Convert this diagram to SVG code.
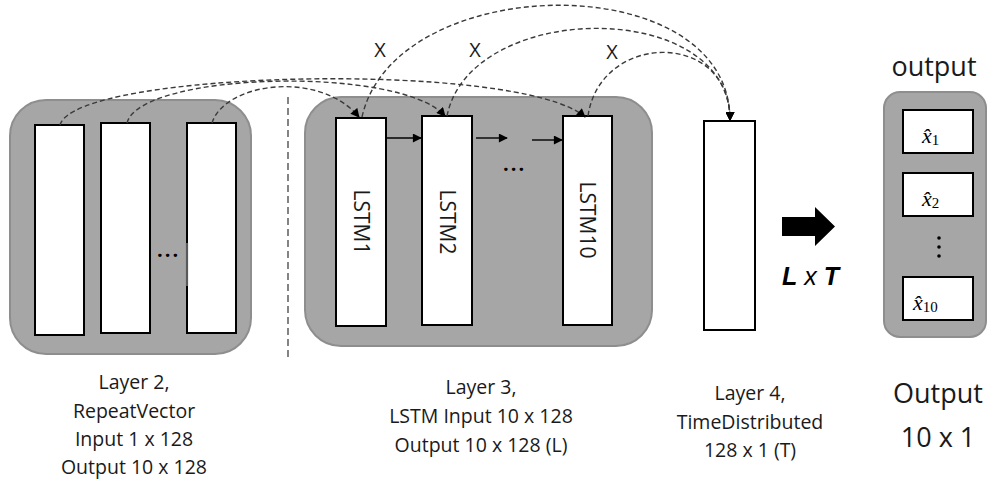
<svg xmlns="http://www.w3.org/2000/svg" width="990" height="488" viewBox="0 0 990 488">
  <style>
    .panel { fill: #a6a6a6; stroke: #8e8e8e; stroke-width: 2; }
    .bar { fill: #ffffff; stroke: #000000; stroke-width: 2; }
    .flow { fill: none; stroke: #3a3a3a; stroke-width: 1.4; stroke-dasharray: 5 3; }
    .sep { fill: none; stroke: #333333; stroke-width: 1.2; stroke-dasharray: 7 4; }
    .solid { fill: none; stroke: #000000; stroke-width: 1.4; }
    .lbl { font-family: "Open Sans", "Noto Sans", sans-serif; font-size: 19.5px; fill: #1a1a1a; text-anchor: middle; }
    .big { font-family: "Open Sans", "Noto Sans", sans-serif; font-size: 27px; fill: #1a1a1a; text-anchor: middle; }
    .cell { font-family: "Open Sans", "Noto Sans", sans-serif; font-size: 21px; fill: #1a1a1a; text-anchor: middle; }
    .xl { font-family: "Open Sans", "Noto Sans", sans-serif; font-size: 20px; fill: #1a1a1a; text-anchor: middle; }
    .dots { font-family: "Open Sans", "Noto Sans", sans-serif; font-size: 20px; font-weight: bold; fill: #000000; letter-spacing: 2px; }
    .math { font-family: "Liberation Serif", "DejaVu Serif", serif; font-size: 22px; font-style: italic; fill: #000000; }
    .sub { font-style: normal; font-size: 15px; }
  </style>
  <defs>
    <marker id="ah" viewBox="0 0 10 10" refX="9" refY="5" markerWidth="10" markerHeight="9" markerUnits="userSpaceOnUse" orient="auto">
      <path d="M0,0 L10,5 L0,10 z" fill="#000000"/>
    </marker>
  </defs>

  <!-- Layer 2: RepeatVector -->
  <g id="layer2">
    <rect class="panel" x="10" y="100" width="241" height="254" rx="36"/>
    <rect class="bar" x="35" y="125" width="49" height="210"/>
    <rect class="bar" x="101" y="123" width="49" height="210"/>
    <rect class="bar" x="187" y="123" width="49" height="210"/>
    <line x1="187" y1="243" x2="187" y2="286" stroke="#5a5a5a" stroke-width="2.2"/>
    <text class="dots" x="157" y="257">...</text>
    <text class="lbl" x="134" y="389">Layer 2,</text>
    <text class="lbl" x="134" y="418">RepeatVector</text>
    <text class="lbl" x="134" y="446">Input 1 x 128</text>
    <text class="lbl" x="134" y="474">Output 10 x 128</text>
  </g>

  <!-- dashed divider -->
  <line class="sep" x1="288" y1="97" x2="288" y2="357"/>

  <!-- Layer 3: LSTM -->
  <g id="layer3">
    <rect class="panel" x="305" y="97" width="347" height="249" rx="36"/>
    <rect class="bar" x="336" y="118" width="50" height="208"/>
    <rect class="bar" x="422" y="116" width="50" height="209"/>
    <rect class="bar" x="563" y="116" width="49" height="209"/>
    <text class="cell" transform="translate(361,222) rotate(90)" x="0" y="7.5">LSTM1</text>
    <text class="cell" transform="translate(447,222) rotate(90)" x="0" y="7.5">LSTM2</text>
    <text class="cell" transform="translate(587,220) rotate(90)" x="0" y="7.5">LSTM10</text>
    <text class="dots" x="503" y="171">...</text>
    <text class="lbl" x="481" y="394">Layer 3,</text>
    <text class="lbl" x="481" y="423">LSTM Input 10 x 128</text>
    <text class="lbl" x="481" y="452">Output 10 x 128 (L)</text>
  </g>

  <!-- Layer 4: TimeDistributed -->
  <g id="layer4">
    <rect class="bar" x="704" y="121" width="51" height="209"/>
    <text class="lbl" x="750" y="400">Layer 4,</text>
    <text class="lbl" x="750" y="429">TimeDistributed</text>
    <text class="lbl" x="750" y="457">128 x 1 (T)</text>
  </g>

  <!-- L x T arrow -->
  <g id="lxt">
    <polygon points="782,217 815,217 815,207 835,226.5 815,246 815,236 782,236" fill="#000000"/>
    <text x="782" y="285" font-family="Liberation Sans, Arial, sans-serif" font-size="25" font-style="italic" fill="#000000"><tspan font-weight="bold">L</tspan> x <tspan font-weight="bold">T</tspan></text>
  </g>

  <!-- Output column -->
  <g id="output">
    <text class="big" x="934" y="76" font-size="28">output</text>
    <rect class="panel" x="884" y="92" width="102" height="245" rx="16"/>
    <rect class="bar" x="903" y="110" width="70" height="43"/>
    <rect class="bar" x="903" y="173" width="70" height="43"/>
    <rect class="bar" x="903" y="277" width="70" height="43"/>
    <text class="math" x="922" y="143">x̂<tspan class="sub" dy="2">1</tspan></text>
    <text class="math" x="922" y="206">x̂<tspan class="sub" dy="2">2</tspan></text>
    <text class="math" x="913" y="310">x̂<tspan class="sub" dy="2">10</tspan></text>
    <circle cx="939" cy="238" r="1.8" fill="#000000"/>
    <circle cx="939" cy="247" r="1.8" fill="#000000"/>
    <circle cx="939" cy="256" r="1.8" fill="#000000"/>
    <text class="big" x="938" y="403">Output</text>
    <text class="big" x="938" y="447">10 x 1</text>
  </g>

  <!-- connectors -->
  <g id="connectors">
    <!-- RepeatVector copies into each LSTM step -->
    <path class="flow" d="M60,125 C75,70 520,60 585,117" marker-end="url(#ah)"/>
    <path class="flow" d="M127,123 C140,72 400,65 445,116" marker-end="url(#ah)"/>
    <path class="flow" d="M212,123 C225,82 320,70 359,117" marker-end="url(#ah)"/>
    <!-- recurrent state passing -->
    <line class="solid" x1="386" y1="138" x2="421" y2="138" marker-end="url(#ah)"/>
    <line class="solid" x1="476" y1="138" x2="507" y2="138" marker-end="url(#ah)"/>
    <line class="solid" x1="532" y1="140" x2="562" y2="140" marker-end="url(#ah)"/>
    <!-- LSTM outputs to TimeDistributed -->
    <path class="flow" d="M362,117 C395,-30 730,-35 730,120" marker-end="url(#ah)"/>
    <path class="flow" d="M447,116 C470,0 730,-3 730,120" marker-end="url(#ah)"/>
    <path class="flow" d="M588,116 C600,32 730,29 730,120" marker-end="url(#ah)"/>
    <text class="xl" x="380" y="57">X</text>
    <text class="xl" x="475" y="57">X</text>
    <text class="xl" x="612" y="59">X</text>
  </g>
</svg>
